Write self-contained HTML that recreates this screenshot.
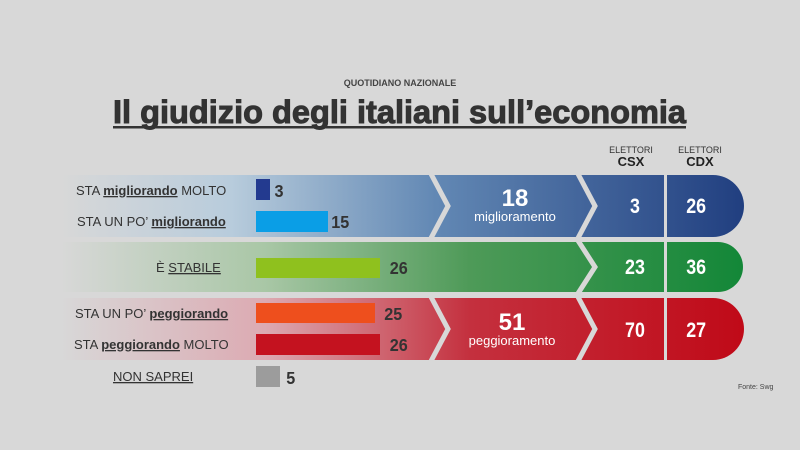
<!DOCTYPE html>
<html><head><meta charset="utf-8"><style>
html,body{margin:0;padding:0;background:#d8d8d8;}
svg{display:block;font-family:"Liberation Sans",sans-serif;}
</style></head><body>
<svg width="800" height="450" viewBox="0 0 800 450" xmlns="http://www.w3.org/2000/svg">
<defs>
<linearGradient id="gb" x1="60" x2="743" y1="0" y2="0" gradientUnits="userSpaceOnUse">
<stop offset="0" stop-color="#d8d8d8"/><stop offset="0.25" stop-color="#b8ccdc"/><stop offset="0.55" stop-color="#6288b4"/><stop offset="1" stop-color="#213f80"/></linearGradient>
<linearGradient id="gg" x1="60" x2="743" y1="0" y2="0" gradientUnits="userSpaceOnUse">
<stop offset="0" stop-color="#d8d8d8"/><stop offset="0.3" stop-color="#a9c7a6"/><stop offset="0.6" stop-color="#4e9a58"/><stop offset="1" stop-color="#138738"/></linearGradient>
<linearGradient id="gr" x1="60" x2="743" y1="0" y2="0" gradientUnits="userSpaceOnUse">
<stop offset="0" stop-color="#d8d8d8"/><stop offset="0.3" stop-color="#dcaab2"/><stop offset="0.6" stop-color="#c4303e"/><stop offset="1" stop-color="#c00a18"/></linearGradient>
</defs>
<rect width="800" height="450" fill="#d8d8d8"/>
<text x="400" y="86" text-anchor="middle" font-size="9" font-weight="bold" fill="#444">QUOTIDIANO NAZIONALE</text>
<text x="113" y="123" font-size="32" font-weight="bold" fill="#333" stroke="#333" stroke-width="1" textLength="573" lengthAdjust="spacingAndGlyphs">Il giudizio degli italiani sull’economia</text>
<rect x="113" y="126" width="573" height="2.5" fill="#333"/>
<text x="631" y="153" text-anchor="middle" font-size="9" fill="#333">ELETTORI</text>
<text x="631" y="166" text-anchor="middle" font-size="13" font-weight="bold" fill="#222">CSX</text>
<text x="700" y="153" text-anchor="middle" font-size="9" fill="#333">ELETTORI</text>
<text x="700" y="166" text-anchor="middle" font-size="13" font-weight="bold" fill="#222">CDX</text>
<path d="M60 175 H713 A31 31 0 0 1 713 237 H60 Z" fill="url(#gb)"/>
<path d="M60 242 H718 A25 25 0 0 1 718 292 H60 Z" fill="url(#gg)"/>
<path d="M60 298 H713 A31 31 0 0 1 713 360 H60 Z" fill="url(#gr)"/>
<g fill="none" stroke="#d8d8d8" stroke-width="5">
<polyline points="430,172 448,206 430,240"/>
<polyline points="430,295 448,329 430,363"/>
<polyline points="577,172 595,206 577,240"/>
<polyline points="577,239 595,267 577,295"/>
<polyline points="577,295 595,329 577,363"/>
</g>
<rect x="664" y="172" width="3" height="190" fill="#d8d8d8"/>
<rect x="0" y="237" width="800" height="5" fill="#d8d8d8"/>
<rect x="0" y="292" width="800" height="6" fill="#d8d8d8"/>
<g font-size="13" fill="#333">
<text x="76" y="195">STA <tspan font-weight="bold" text-decoration="underline">migliorando</tspan> MOLTO</text>
<text x="77" y="226">STA UN PO’ <tspan font-weight="bold" text-decoration="underline">migliorando</tspan></text>
<text x="156" y="272">È <tspan text-decoration="underline">STABILE</tspan></text>
<text x="75" y="318">STA UN PO’ <tspan font-weight="bold" text-decoration="underline">peggiorando</tspan></text>
<text x="74" y="349">STA <tspan font-weight="bold" text-decoration="underline">peggiorando</tspan> MOLTO</text>
<text x="113" y="381" text-decoration="underline">NON SAPREI</text>
</g>
<rect x="256" y="179" width="14" height="21" fill="#233a8f"/>
<rect x="256" y="211" width="72" height="21" fill="#0a9ee6"/>
<rect x="256" y="258" width="124" height="20" fill="#8fc11e"/>
<rect x="256" y="303" width="119" height="20" fill="#ee4f1d"/>
<rect x="256" y="334" width="124" height="21" fill="#c4121f"/>
<rect x="256" y="366" width="24" height="21" fill="#9c9c9c"/>
<g font-size="18" font-weight="bold" fill="#333" transform="scale(0.9,1)">
<text x="305" y="197">3</text>
<text x="368" y="228">15</text>
<text x="433" y="274">26</text>
<text x="427" y="320">25</text>
<text x="433" y="351">26</text>
<text x="318" y="384">5</text>
</g>
<g fill="#fff" text-anchor="middle">
<text x="515" y="206" font-size="24" font-weight="bold">18</text>
<text x="515" y="221" font-size="13">miglioramento</text>
<text x="512" y="330" font-size="24" font-weight="bold">51</text>
<text x="512" y="345" font-size="13">peggioramento</text>
<g font-size="21" font-weight="bold" transform="scale(0.85,1)">
<text x="747" y="213">3</text><text x="819" y="213">26</text>
<text x="747" y="274">23</text><text x="819" y="274">36</text>
<text x="747" y="337">70</text><text x="819" y="337">27</text>
</g></g>
<text x="738" y="389" font-size="7" fill="#444">Fonte: Swg</text>
</svg>
</body></html>
